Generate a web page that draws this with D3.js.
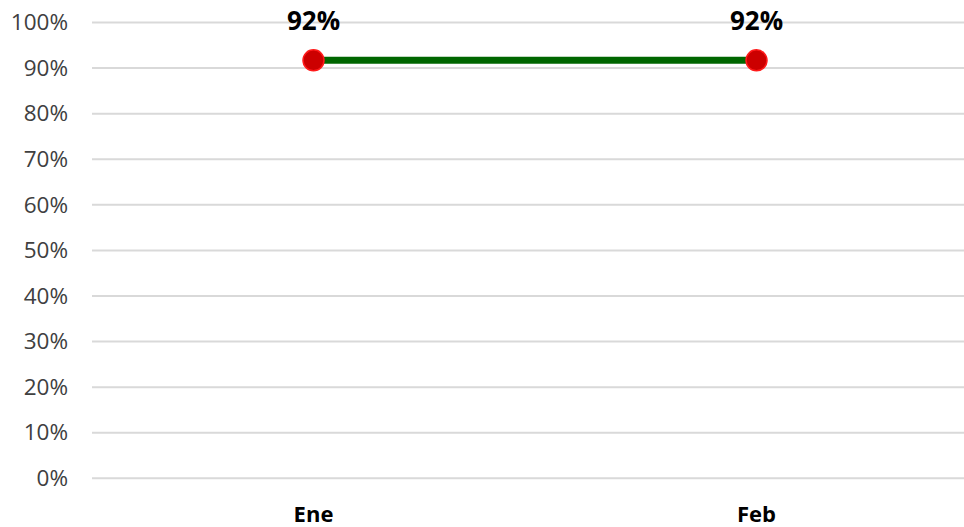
<!DOCTYPE html>
<html><head><meta charset="utf-8">
<script src="https://cdn.jsdelivr.net/npm/d3@7"></script>
<style>body{margin:0;background:#fff;overflow:hidden}svg{display:block}</style>
</head><body>
<svg id="c" width="964" height="527"></svg>
<script>
const categories = ["Ene", "Feb"];
const values = [0.917, 0.917];
const valueLabels = ["92%", "92%"];
const yTicks = [0, 0.1, 0.2, 0.3, 0.4, 0.5, 0.6, 0.7, 0.8, 0.9, 1.0];

(function () {
const svg = d3.select("#c");
const mLeft = 92, mRight = 978, mTop = 22.5, mBottom = 478.3;
const font = "'Open Sans', 'Noto Sans', sans-serif";

const x = d3.scaleBand().domain(categories).range([mLeft, mRight]).padding(0);
const y = d3.scaleLinear().domain([0, 1]).range([mBottom, mTop]);

// gridlines
svg.append("g").selectAll("line").data(yTicks).join("line")
  .attr("x1", mLeft).attr("x2", mRight)
  .attr("y1", d => y(d)).attr("y2", d => y(d))
  .attr("stroke", "#d9d9d9").attr("stroke-width", 2);

// y axis labels
const yAxis = d3.axisLeft(y).tickValues(yTicks).tickFormat(d3.format(".0%")).tickSize(0).tickPadding(0);
const ya = svg.append("g").attr("transform", `translate(${68},0)`).call(yAxis);
ya.select(".domain").remove();
ya.selectAll("text").attr("font-family", font).attr("font-size", 22.5).attr("fill", "#404040");

// x axis labels
const xAxis = d3.axisBottom(x).tickSize(0).tickPadding(0);
const xa = svg.append("g").attr("transform", `translate(0,${mBottom})`).call(xAxis);
xa.select(".domain").remove();
xa.selectAll("text").attr("font-family", font).attr("font-size", 22).attr("font-weight", "bold")
  .attr("fill", "#000").attr("dy", null).attr("y", 44);

const cx = d => x(d) + x.bandwidth() / 2;
const pts = categories.map((c, i) => ({c, v: values[i], l: valueLabels[i]}));

// line
svg.append("path").datum(pts)
  .attr("d", d3.line().x(d => cx(d.c)).y(d => y(d.v)))
  .attr("fill", "none").attr("stroke", "#006600").attr("stroke-width", 7);

// markers
svg.append("g").selectAll("circle").data(pts).join("circle")
  .attr("cx", d => cx(d.c)).attr("cy", d => y(d.v)).attr("r", 10.5)
  .attr("fill", "#cc0000").attr("stroke", "#ff1a1a").attr("stroke-width", 1.5);

// data labels
svg.append("g").selectAll("text").data(pts).join("text")
  .attr("x", d => cx(d.c)).attr("y", 29.5)
  .attr("text-anchor", "middle")
  .attr("font-family", font).attr("font-size", 26).attr("font-weight", "bold").attr("fill", "#000")
  .text(d => d.l);
})();
</script>
</body></html>
